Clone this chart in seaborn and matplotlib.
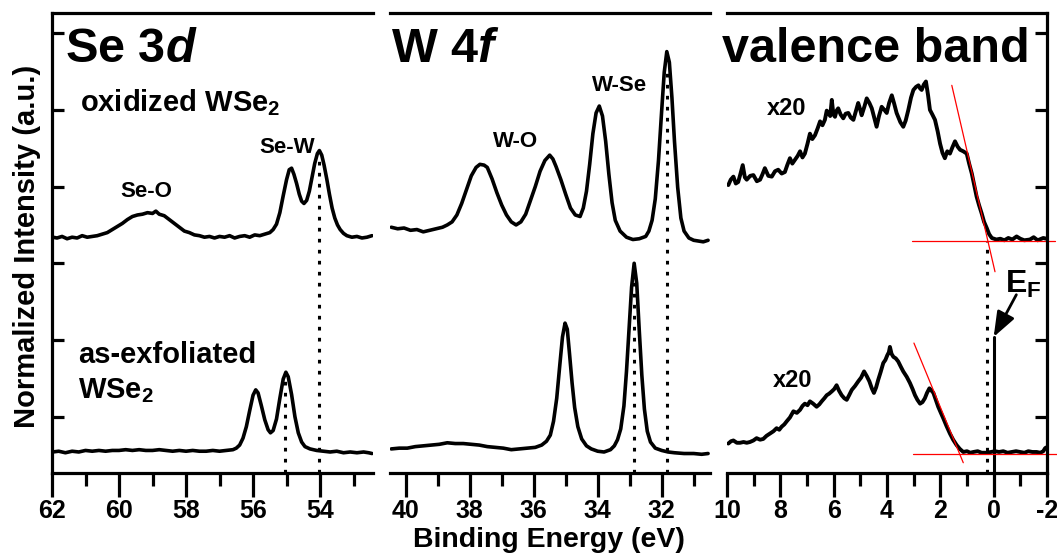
import numpy as np
import matplotlib
matplotlib.use("Agg")
import matplotlib.pyplot as plt
import seaborn as sns

# Se 3d, oxidized WSe2 (binding energy in eV, normalized intensity)
se_ox_E = [61.98, 61.85, 61.7, 61.55, 61.4, 61.25, 61.1, 60.95, 60.8, 60.65,
           60.5, 60.35, 60.2, 60.05, 59.9, 59.75, 59.6, 59.45, 59.3, 59.15,
           59.0, 58.9, 58.8, 58.65, 58.5, 58.35, 58.2, 58.05, 57.9, 57.75,
           57.6, 57.45, 57.3, 57.15, 57.0, 56.85, 56.7, 56.55, 56.4, 56.25,
           56.1, 55.95, 55.8, 55.65, 55.5, 55.4, 55.3, 55.2, 55.1, 55.0,
           54.92, 54.85, 54.78, 54.7, 54.62, 54.55, 54.48, 54.4, 54.32, 54.24,
           54.16, 54.08, 54.02, 53.95, 53.88, 53.8, 53.72, 53.64, 53.56, 53.48,
           53.4, 53.3, 53.2, 53.05, 52.9, 52.75, 52.6, 52.45]
se_ox_I = [2.80, 2.79, 2.81, 2.78, 2.80, 2.79, 2.82, 2.80, 2.81, 2.82,
           2.84, 2.86, 2.90, 2.94, 2.98, 3.03, 3.07, 3.09, 3.10, 3.12,
           3.11, 3.14, 3.10, 3.08, 3.03, 2.98, 2.93, 2.88, 2.86, 2.83,
           2.82, 2.80, 2.81, 2.79, 2.81, 2.80, 2.82, 2.79, 2.81, 2.82,
           2.80, 2.83, 2.82, 2.84, 2.86, 2.90, 2.97, 3.12, 3.34, 3.55,
           3.68, 3.70, 3.62, 3.50, 3.36, 3.27, 3.24, 3.28, 3.40, 3.58,
           3.76, 3.89, 3.93, 3.87, 3.74, 3.56, 3.36, 3.18, 3.05, 2.96,
           2.90, 2.85, 2.82, 2.80, 2.81, 2.79, 2.80, 2.82]

# Se 3d, as-exfoliated WSe2
se_ex_E = [61.98, 61.8, 61.6, 61.4, 61.2, 61.0, 60.8, 60.6, 60.4, 60.2,
           60.0, 59.8, 59.6, 59.4, 59.2, 59.0, 58.8, 58.6, 58.4, 58.2,
           58.0, 57.8, 57.6, 57.4, 57.2, 57.0, 56.8, 56.6, 56.5, 56.4,
           56.3, 56.2, 56.1, 56.0, 55.92, 55.85, 55.75, 55.65, 55.55, 55.48,
           55.4, 55.3, 55.2, 55.1, 55.02, 54.95, 54.85, 54.75, 54.65, 54.55,
           54.45, 54.3, 54.1, 53.9, 53.7, 53.5, 53.3, 53.1, 52.9, 52.7,
           52.55, 52.45]
se_ex_I = [0.00, 0.01, -0.01, 0.01, 0.00, 0.02, 0.01, 0.02, 0.01, 0.02,
           0.02, 0.03, 0.02, 0.03, 0.02, 0.02, 0.03, 0.02, 0.01, 0.02,
           0.01, 0.02, 0.01, 0.01, 0.02, 0.01, 0.02, 0.03, 0.05, 0.09,
           0.18, 0.33, 0.54, 0.74, 0.81, 0.77, 0.60, 0.42, 0.29, 0.25,
           0.28, 0.43, 0.70, 0.95, 1.04, 0.98, 0.75, 0.46, 0.25, 0.13,
           0.07, 0.04, 0.02, 0.01, 0.00, 0.01, -0.01, 0.00, -0.01, 0.00,
           -0.01, -0.02]

# W 4f, oxidized WSe2
w_ox_E = [40.45, 40.25, 40.05, 39.85, 39.65, 39.45, 39.25, 39.05, 38.85, 38.7,
          38.55, 38.4, 38.25, 38.1, 37.95, 37.8, 37.68, 37.55, 37.45, 37.3,
          37.15, 37.0, 36.85, 36.7, 36.55, 36.4, 36.25, 36.1, 35.95, 35.8,
          35.65, 35.5, 35.4, 35.3, 35.15, 35.0, 34.85, 34.7, 34.55, 34.45,
          34.35, 34.25, 34.15, 34.05, 33.95, 33.85, 33.75, 33.65, 33.55, 33.45,
          33.3, 33.1, 32.9, 32.7, 32.5, 32.4, 32.3, 32.2, 32.1, 32.0,
          31.92, 31.84, 31.76, 31.68, 31.6, 31.5, 31.4, 31.3, 31.15, 31.0,
          30.85, 30.7, 30.55]
w_ox_I = [2.93, 2.91, 2.92, 2.89, 2.90, 2.87, 2.89, 2.91, 2.93, 2.96,
          3.00, 3.09, 3.24, 3.42, 3.60, 3.71, 3.75, 3.74, 3.71, 3.56,
          3.38, 3.22, 3.09, 3.00, 2.96, 3.00, 3.10, 3.28, 3.46, 3.66,
          3.80, 3.87, 3.82, 3.72, 3.55, 3.36, 3.18, 3.09, 3.07, 3.18,
          3.40, 3.75, 4.15, 4.42, 4.51, 4.38, 4.05, 3.62, 3.25, 3.02,
          2.88, 2.80, 2.77, 2.78, 2.81, 2.88, 3.02, 3.30, 3.80, 4.45,
          4.95, 5.22, 5.08, 4.62, 4.05, 3.45, 3.05, 2.88, 2.79, 2.76,
          2.75, 2.74, 2.76]

# W 4f, as-exfoliated WSe2
w_ex_E = [40.45, 40.2, 39.95, 39.7, 39.45, 39.2, 38.95, 38.7, 38.45, 38.2,
          37.95, 37.7, 37.45, 37.2, 36.95, 36.7, 36.45, 36.2, 35.95, 35.75,
          35.6, 35.48, 35.38, 35.28, 35.18, 35.1, 35.02, 34.95, 34.88, 34.8,
          34.72, 34.62, 34.5, 34.35, 34.2, 34.0, 33.8, 33.6, 33.48, 33.38,
          33.28, 33.18, 33.1, 33.02, 32.94, 32.86, 32.78, 32.7, 32.62, 32.54,
          32.45, 32.35, 32.2, 32.0, 31.8, 31.6, 31.3, 31.0, 30.75, 30.55]
w_ex_I = [0.04, 0.05, 0.05, 0.07, 0.08, 0.09, 0.10, 0.12, 0.11, 0.11,
          0.10, 0.09, 0.07, 0.06, 0.05, 0.03, 0.04, 0.05, 0.06, 0.09,
          0.14, 0.22, 0.40, 0.70, 1.15, 1.50, 1.68, 1.60, 1.28, 0.90,
          0.58, 0.33, 0.17, 0.08, 0.04, 0.01, 0.00, 0.03, 0.08, 0.16,
          0.30, 0.60, 1.05, 1.60, 2.15, 2.46, 2.20, 1.58, 1.00, 0.56,
          0.27, 0.13, 0.05, 0.02, 0.00, -0.01, -0.02, -0.02, -0.03, -0.02]

# valence band (x20), oxidized WSe2
vb_ox_E = [9.95, 9.86, 9.76, 9.67, 9.58, 9.50, 9.41, 9.33, 9.26, 9.13,
           9.01, 8.88, 8.76, 8.67, 8.58, 8.45, 8.32, 8.20, 8.08, 7.95,
           7.83, 7.74, 7.64, 7.55, 7.45, 7.35, 7.26, 7.17, 7.08, 6.98,
           6.89, 6.80, 6.70, 6.60, 6.51, 6.42, 6.33, 6.26, 6.20, 6.13,
           6.07, 6.01, 5.95, 5.89, 5.83, 5.74, 5.64, 5.55, 5.45, 5.36,
           5.26, 5.17, 5.08, 5.01, 4.95, 4.85, 4.76, 4.66, 4.57, 4.48,
           4.39, 4.30, 4.20, 4.10, 4.01, 3.92, 3.82, 3.73, 3.64, 3.50,
           3.39, 3.30, 3.20, 3.10, 3.01, 2.91, 2.82, 2.76, 2.70, 2.62,
           2.54, 2.46, 2.39, 2.30, 2.20, 2.10, 2.01, 1.92, 1.83, 1.74,
           1.64, 1.55, 1.45, 1.35, 1.26, 1.14, 1.01, 0.92, 0.82, 0.73,
           0.64, 0.55, 0.45, 0.36, 0.26, 0.17, 0.07, -0.10, -0.25, -0.40,
           -0.55, -0.70, -0.86, -1.00, -1.15, -1.36, -1.50, -1.65, -1.86, -1.98]
vb_ox_I = [3.48, 3.55, 3.59, 3.50, 3.52, 3.62, 3.74, 3.58, 3.55, 3.60,
           3.61, 3.53, 3.55, 3.62, 3.70, 3.60, 3.59, 3.66, 3.68, 3.63,
           3.65, 3.74, 3.83, 3.76, 3.81, 3.86, 3.92, 3.84, 3.89, 4.02,
           4.15, 4.08, 4.13, 4.22, 4.31, 4.26, 4.33, 4.45, 4.42, 4.38,
           4.59, 4.40, 4.37, 4.45, 4.48, 4.40, 4.35, 4.41, 4.42, 4.36,
           4.33, 4.44, 4.55, 4.47, 4.39, 4.50, 4.61, 4.55, 4.48, 4.36,
           4.24, 4.38, 4.50, 4.46, 4.42, 4.55, 4.65, 4.54, 4.42, 4.30,
           4.24, 4.32, 4.46, 4.62, 4.72, 4.76, 4.78, 4.74, 4.72, 4.79,
           4.83, 4.65, 4.46, 4.40, 4.33, 4.18, 4.02, 3.90, 3.83, 3.92,
           3.89, 3.97, 4.05, 3.98, 3.94, 3.92, 3.89, 3.76, 3.63, 3.48,
           3.33, 3.22, 3.11, 3.00, 2.92, 2.84, 2.79, 2.77, 2.78, 2.76,
           2.79, 2.77, 2.81, 2.78, 2.76, 2.77, 2.80, 2.76, 2.79, 2.78]

# valence band (x20), as-exfoliated WSe2
vb_ex_E = [9.95, 9.85, 9.76, 9.63, 9.51, 9.38, 9.26, 9.14, 9.01, 8.89,
           8.76, 8.64, 8.52, 8.39, 8.26, 8.14, 8.04, 7.95, 7.85, 7.76,
           7.64, 7.51, 7.38, 7.26, 7.17, 7.08, 6.98, 6.89, 6.77, 6.64,
           6.54, 6.45, 6.35, 6.26, 6.17, 6.07, 5.98, 5.89, 5.80, 5.70,
           5.60, 5.51, 5.42, 5.32, 5.20, 5.08, 4.97, 4.86, 4.76, 4.66,
           4.57, 4.49, 4.41, 4.33, 4.24, 4.14, 4.06, 3.99, 3.93, 3.89,
           3.83, 3.76, 3.67, 3.58, 3.48, 3.39, 3.26, 3.14, 3.04, 2.95,
           2.86, 2.76, 2.67, 2.58, 2.50, 2.41, 2.33, 2.26, 2.17, 2.08,
           1.98, 1.89, 1.77, 1.64, 1.52, 1.39, 1.27, 1.14, 1.00, 0.88,
           0.76, 0.60, 0.45, 0.26, 0.10, -0.05, -0.20, -0.36, -0.52, -0.68,
           -0.84, -0.99, -1.15, -1.30, -1.45, -1.61, -1.75, -1.86, -1.93, -1.98]
vb_ex_I = [0.11, 0.14, 0.15, 0.12, 0.12, 0.13, 0.12, 0.13, 0.15, 0.18,
           0.16, 0.17, 0.21, 0.24, 0.27, 0.31, 0.29, 0.33, 0.36, 0.40,
           0.45, 0.53, 0.51, 0.55, 0.60, 0.63, 0.61, 0.66, 0.63, 0.59,
           0.62, 0.66, 0.70, 0.74, 0.76, 0.79, 0.82, 0.87, 0.80, 0.74,
           0.70, 0.68, 0.74, 0.81, 0.86, 0.92, 0.97, 1.05, 0.99, 0.92,
           0.83, 0.77, 0.84, 0.94, 1.04, 1.16, 1.20, 1.26, 1.30, 1.37,
           1.28, 1.24, 1.22, 1.18, 1.11, 1.05, 0.98, 0.90, 0.82, 0.74,
           0.68, 0.63, 0.65, 0.70, 0.77, 0.83, 0.80, 0.77, 0.68, 0.59,
           0.51, 0.44, 0.34, 0.24, 0.16, 0.09, 0.04, 0.00, 0.01, -0.01,
           0.00, 0.01, -0.01, -0.01, 0.00, 0.01, 0.00, 0.01, -0.01, 0.00,
           0.01, 0.00, -0.01, 0.01, 0.00, 0.00, -0.01, 0.01, 0.05, 0.06]

# linear fits (red) for valence band maximum
fit_ox_base_E, fit_ox_base_I = [3.07, -2.3], [2.75, 2.75]
fit_ox_edge_E, fit_ox_edge_I = [1.57, -0.05], [4.78, 2.35]
fit_ex_base_E, fit_ex_base_I = [3.04, -2.36], [-0.03, -0.03]
fit_ex_edge_E, fit_ex_edge_I = [2.99, 1.14], [1.42, -0.14]

# reference positions (dotted lines)
se_marks = [(54.02, 3.85), (55.05, 0.98)]
w_marks = [(31.82, 4.95), (32.86, 2.3)]
vbm_ox = 0.25
ef_top = 1.50

sns.set_theme(style="ticks")
plt.rcParams['font.family'] = ['Liberation Sans', 'DejaVu Sans']
plt.rcParams['font.weight'] = 'bold'
plt.rcParams['mathtext.fontset'] = 'custom'
plt.rcParams['mathtext.rm'] = 'Liberation Sans:bold'
plt.rcParams['mathtext.bf'] = 'Liberation Sans:bold'
plt.rcParams['mathtext.it'] = 'Liberation Sans:bold:italic'
for key in ['text.color', 'axes.labelcolor', 'xtick.color', 'ytick.color', 'axes.edgecolor']:
    plt.rcParams[key] = 'black'

W, H = 1057, 554
fig = plt.figure(figsize=(W / 100, H / 100), dpi=100)

bot, top = 473, 12.7
def box(x0, w):
    return [x0 / W, 1 - bot / H, w / W, (bot - top) / H]

ax1 = fig.add_axes(box(52, 321))
ax2 = fig.add_axes(box(390, 320))
ax3 = fig.add_axes(box(727, 320))

LW = 2.3
ylim = (-0.274, 5.727)
yt = [0.46, 1.46, 2.46, 3.46, 4.46, 5.46]

for ax, xl, maj in [(ax1, (62, 52.42), [62, 60, 58, 56, 54]),
                    (ax2, (40.49, 30.49), [40, 38, 36, 34, 32]),
                    (ax3, (10, -2), [10, 8, 6, 4, 2, 0, -2])]:
    ax.set_xlim(*xl)
    ax.set_ylim(*ylim)
    ax.set_xticks(maj)
    lo, hi = min(xl), max(xl)
    ax.set_xticks([v for v in range(int(np.ceil(lo)), int(np.floor(hi)) + 1) if v not in maj], minor=True)
    ax.set_xticklabels([str(v) for v in maj])
    ax.tick_params(axis='x', which='major', direction='out', length=17, width=LW,
                   labelsize=18, pad=1.5)
    ax.tick_params(axis='x', which='minor', direction='out', length=9.5, width=LW)
    ax.set_yticks(yt)
    ax.set_yticklabels([])
    ax.tick_params(axis='y', which='both', direction='in', length=8.5, width=LW,
                   left=False, right=False)
    for s in ax.spines.values():
        s.set_linewidth(LW)
        s.set_visible(False)
    ax.spines['top'].set_visible(True)
    ax.spines['bottom'].set_visible(True)
    ax.set_facecolor('white')
    for lab in ax.get_xticklabels():
        lab.set_fontweight('bold')

ax1.spines['left'].set_visible(True)
ax1.tick_params(axis='y', left=True)
ax3.spines['right'].set_visible(True)
ax3.tick_params(axis='y', right=True)

def trace(ax, x, y, lw=2.6):
    sns.lineplot(x=x, y=y, ax=ax, color='black', lw=lw, estimator=None, sort=False)

trace(ax1, se_ox_E, se_ox_I)
trace(ax1, se_ex_E, se_ex_I)
trace(ax2, w_ox_E, w_ox_I)
trace(ax2, w_ex_E, w_ex_I)
trace(ax3, vb_ox_E, vb_ox_I, 2.8)
trace(ax3, vb_ex_E, vb_ex_I, 2.8)

dots = (0, (1.2, 2.4))
for ax, marks in [(ax1, se_marks), (ax2, w_marks)]:
    for x, y in marks:
        ax.plot([x, x], [ylim[0], y], color='black', lw=2.2, ls=dots)
ax3.plot([vbm_ox, vbm_ox], [ylim[0], 2.75], color='black', lw=2.2, ls=dots)
ax3.plot([0, 0], [ylim[0], ef_top], color='black', lw=2.2)

for xs, ys in [(fit_ox_base_E, fit_ox_base_I), (fit_ox_edge_E, fit_ox_edge_I),
               (fit_ex_base_E, fit_ex_base_I), (fit_ex_edge_E, fit_ex_edge_I)]:
    ax3.plot(xs, ys, color='red', lw=0.9, clip_on=False)

big = dict(fontsize=35, fontweight='bold', ha='left', va='baseline')
ax1.text(61.61, 5.08, r'Se 3$\mathit{d}$', **big)
ax2.text(40.45, 5.08, r'W 4$\mathit{f}$', **big)
ax3.text(10.19, 5.08, 'valence band', clip_on=False, **big)

mid = dict(fontsize=21, fontweight='bold', ha='left', va='baseline')
ax1.text(61.16, 4.44, r'oxidized WSe$_\mathbf{2}$', **mid)
ax1.text(61.22, 1.16, 'as-exfoliated', **mid)
ax1.text(61.22, 0.70, r'WSe$_\mathbf{2}$', **mid)

sm = dict(fontsize=16, fontweight='bold', ha='center', va='baseline')
ax1.text(59.18, 3.32, 'Se-O', **sm)
ax1.text(54.99, 3.90, 'Se-W', **sm)
ax2.text(36.58, 3.98, 'W-O', **sm)
ax2.text(33.33, 4.70, 'W-Se', **sm)
ax3.text(7.75, 4.39, 'x20', fontsize=17, fontweight='bold', ha='center', va='baseline')
ax3.text(7.53, 0.85, 'x20', fontsize=17, fontweight='bold', ha='center', va='baseline')

ax3.text(-0.42, 2.07, r'$\mathbf{E_F}$', fontsize=23, ha='left', va='baseline')
ax3.annotate('', xy=(0.0, ef_top), xytext=(-0.85, 2.05),
             arrowprops=dict(arrowstyle='-|>,head_length=0.85,head_width=0.32',
                             mutation_scale=18, lw=2, color='black',
                             shrinkA=0, shrinkB=0))

fig.text(549 / W, 1 - 547 / H, 'Binding Energy (eV)', fontsize=20.5,
         fontweight='bold', ha='center', va='baseline')
fig.text(27 / W, 1 - 246 / H, 'Normalized Intensity (a.u.)', fontsize=21,
         fontweight='bold', ha='center', va='center', rotation=90)

fig.savefig('out.png', dpi=100, facecolor='white')
plt.close(fig)
